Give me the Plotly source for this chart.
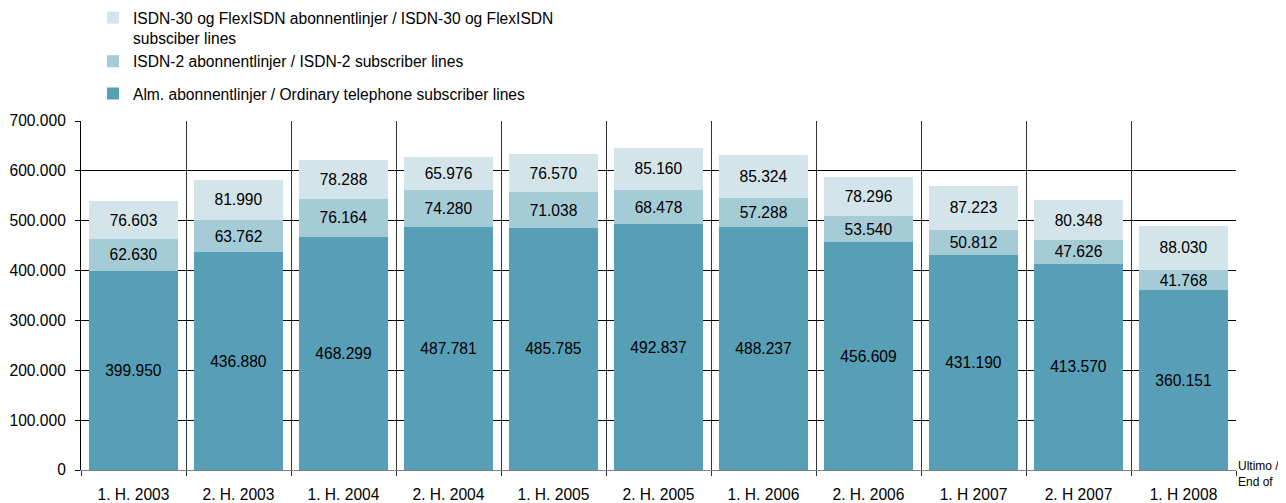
import plotly.graph_objects as go

categories = ["1. H. 2003", "2. H. 2003", "1. H. 2004", "2. H. 2004", "1. H. 2005",
              "2. H. 2005", "1. H. 2006", "2. H. 2006", "1. H 2007", "2. H 2007", "1. H 2008"]
ordinary = [399950, 436880, 468299, 487781, 485785, 492837, 488237, 456609, 431190, 413570, 360151]
isdn2 = [62630, 63762, 76164, 74280, 71038, 68478, 57288, 53540, 50812, 47626, 41768]
isdn30 = [76603, 81990, 78288, 65976, 76570, 85160, 85324, 78296, 87223, 80348, 88030]

names = ["Alm. abonnentlinjer / Ordinary telephone subscriber lines",
         "ISDN-2 abonnentlinjer / ISDN-2 subscriber lines",
         "ISDN-30 og FlexISDN abonnentlinjer / ISDN-30 og FlexISDN<br>subsciber lines"]
colors = ["#579FB6", "#A5CBD6", "#D3E4EA"]
groups = ["b", "a", "a"]
ranks = [3, 2, 1]

FONT = "Liberation Sans, Arial, sans-serif"
FS = 15.6
W, H = 1278, 495
PLOT_H = 349
TOP = 113

fig = go.Figure()
for vals, name, col, grp, rk in zip([ordinary, isdn2, isdn30], names, colors, groups, ranks):
    fig.add_trace(go.Bar(
        x=categories, y=vals, name=name, legendgroup=grp, legendrank=rk,
        marker=dict(color=col, line=dict(width=0)),
        texttemplate="%{y:,}", textposition="inside", insidetextanchor="middle",
        constraintext="none", textangle=0,
        textfont=dict(color="black", size=FS, family=FONT),
        hoverinfo="x+y+name",
    ))

fig.update_layout(
    barmode="stack", bargap=0.16,
    separators=",.",
    width=W, height=H,
    margin=dict(l=73, r=50, t=TOP, b=33, autoexpand=False),
    paper_bgcolor="white", plot_bgcolor="white",
    font=dict(family=FONT, size=FS, color="black"),
    legend=dict(
        xref="container", yref="paper", x=85/W, y=1 + (TOP + 7)/PLOT_H,
        xanchor="left", yanchor="top",
        traceorder="grouped", tracegroupgap=9,
        valign="top", font=dict(size=FS, family=FONT),
        bgcolor="rgba(0,0,0,0)", itemclick=False,
    ),
    xaxis=dict(
        type="category", tickson="boundaries", showgrid=True, gridcolor="#333333",
        gridwidth=1, ticks="outside", ticklen=5, tickcolor="#333333",
        showline=True, linecolor="#7f7f7f", linewidth=1,
        tickfont=dict(size=FS, family=FONT), ticklabelstandoff=10, tickangle=0,
        range=[-0.5, 10.5],
    ),
    yaxis=dict(
        range=[0, 700000], dtick=100000, tickformat=",",
        showgrid=True, gridcolor="black", gridwidth=1,
        ticks="outside", ticklen=5, tickcolor="black",
        showline=True, linecolor="black", linewidth=1,
        zeroline=False, tickfont=dict(size=FS, family=FONT), ticklabelstandoff=6,
    ),
    annotations=[dict(
        text="Ultimo /<br>End of", xref="paper", yref="y", x=1, y=0,
        xanchor="left", yanchor="middle", yshift=-4, xshift=0, showarrow=False,
        align="left", font=dict(size=12, family=FONT, color="black"),
    )],
)

fig.write_html("out.html")
